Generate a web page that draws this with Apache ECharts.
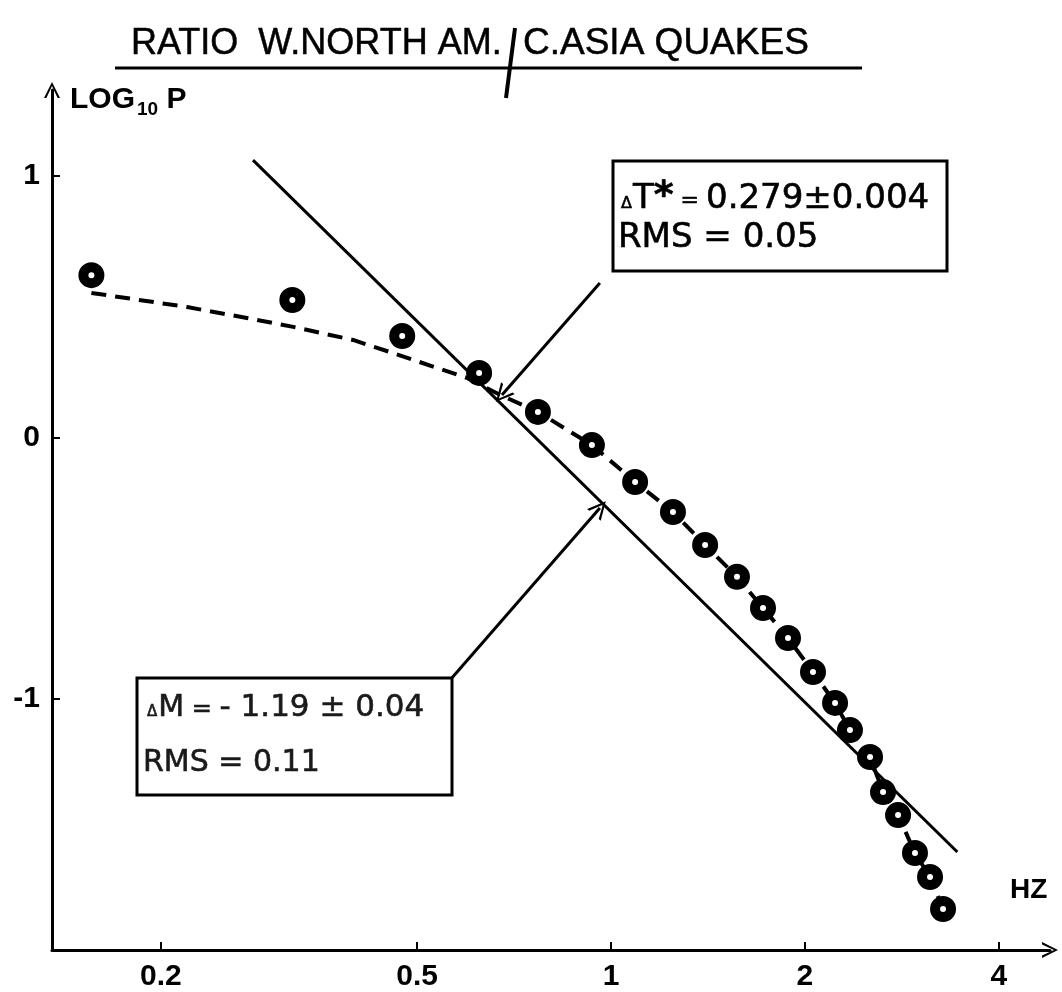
<!DOCTYPE html>
<html>
<head>
<meta charset="utf-8">
<script src="https://cdn.jsdelivr.net/npm/echarts@6/dist/echarts.min.js"></script>
<style>
html,body{margin:0;padding:0;background:#fff;}
#chart{width:1062px;height:992px;}
</style>
</head>
<body>
<div id="chart"></div>
<script>
// ---- data ----
const xTicks = [0.2, 0.5, 1, 2, 4];
const yTicks = [-1, 0, 1];

const freq = [0.156, 0.320, 0.474, 0.624, 0.770, 0.934, 1.090, 1.248, 1.400, 1.569, 1.722,
              1.883, 2.059, 2.228, 2.350, 2.525, 2.645, 2.791, 2.965, 3.129, 3.278];
const logP = [0.621, 0.526, 0.388, 0.247, 0.098, -0.029, -0.170, -0.285, -0.411, -0.533, -0.652,
              -0.767, -0.897, -1.015, -1.119, -1.222, -1.356, -1.444, -1.589, -1.681, -1.803];

// dashed fitted curve (delta T*)
const fitFreq = [0.156, 0.2197, 0.272, 0.321, 0.3975, 0.4586, 0.537, 0.5975, 0.6727, 0.770, 0.934,
                 1.090, 1.248, 1.400, 1.569, 1.722, 1.883, 2.059, 2.228, 2.350, 2.525, 2.645,
                 2.791, 2.965, 3.129, 3.278];
const fitLogP = [0.553, 0.499, 0.457, 0.423, 0.373, 0.323, 0.266, 0.228, 0.163, 0.098, -0.029,
                 -0.170, -0.285, -0.411, -0.533, -0.652, -0.767, -0.897, -1.015, -1.119, -1.222, -1.356,
                 -1.444, -1.589, -1.681, -1.803];

// straight line fit (delta M)
const lineFreq = [0.278, 3.45];
const lineLogP = [1.061, -1.585];

// annotation arrows [from, to]
const arrowT = [[0.961, 0.591], [0.677, 0.1625]];
const arrowM = [[0.566, -0.920], [0.961, -0.270]];

const zip = (a, b) => a.map((v, i) => [v, b[i]]);

const FONT = '"Liberation Sans", Arial, sans-serif';
const DV = '"DejaVu Sans", sans-serif';
const chevron = 'path://M0,20 L10,0 L20,20 L17,20 L10,5 L3,20 Z';

const chart = echarts.init(document.getElementById('chart'), null, {renderer: 'canvas'});

const option = {
  backgroundColor: '#fff',
  animation: false,
  grid: {left: 52, right: 12, top: 90, bottom: 42},
  xAxis: {
    type: 'log',
    logBase: 10,
    min: 0.1355,
    max: 4.805,
    splitLine: {show: false},
    axisLine: {
      show: true,
      onZero: false,
      lineStyle: {color: '#000', width: 3},
      symbol: ['none', chevron],
      symbolSize: [20, 16]
    },
    axisTick: {show: true, inside: true, length: 8, lineStyle: {color: '#000', width: 2}, customValues: xTicks},
    axisLabel: {
      customValues: xTicks,
      color: '#000', fontFamily: FONT, fontSize: 30, fontWeight: 'bold', margin: 12,
      formatter: v => String(+(+v).toPrecision(3))
    }
  },
  yAxis: {
    type: 'value',
    min: -1.96,
    max: 1.329,
    splitLine: {show: false},
    axisLine: {
      show: true,
      onZero: false,
      lineStyle: {color: '#000', width: 3},
      symbol: ['none', chevron],
      symbolSize: [20, 16]
    },
    axisTick: {show: true, inside: true, length: 8, lineStyle: {color: '#000', width: 2}, customValues: yTicks},
    axisLabel: {
      customValues: yTicks,
      color: '#000', fontFamily: FONT, fontSize: 30, fontWeight: 'bold', margin: 12,
      formatter: v => String(Math.round(v))
    }
  },
  series: [
    {
      type: 'line',
      data: zip(fitFreq, fitLogP),
      showSymbol: false,
      symbol: 'none',
      lineStyle: {color: '#000', width: 4, type: [15, 9]},
      z: 2
    },
    {
      type: 'line',
      data: zip(lineFreq, lineLogP),
      showSymbol: false,
      symbol: 'none',
      lineStyle: {color: '#000', width: 3},
      z: 2
    },
    {
      type: 'lines',
      coordinateSystem: 'cartesian2d',
      symbol: ['none', chevron],
      symbolSize: [22, 18],
      lineStyle: {color: '#000', width: 3, opacity: 1},
      data: [{coords: arrowT}, {coords: arrowM}],
      z: 3
    },
    {
      type: 'scatter',
      data: zip(freq, logP),
      symbol: 'circle',
      symbolSize: 16,
      itemStyle: {color: '#fff', borderColor: '#000', borderWidth: 10, opacity: 1},
      z: 5
    }
  ],
  graphic: {
    elements: [
      // title
      {type: 'text', z: 10,
       style: {text: 'RATIO  W.NORTH AM.', x: 131, y: 44, verticalAlign: 'middle', textVerticalAlign: 'middle',
               font: '36px ' + FONT, fill: '#000', stroke: '#000', lineWidth: 0.5}},
      {type: 'text', z: 10,
       style: {text: 'C.ASIA QUAKES', x: 523, y: 44, verticalAlign: 'middle', textVerticalAlign: 'middle',
               font: '37px ' + FONT, fill: '#000', stroke: '#000', lineWidth: 0.5}},
      {type: 'line', z: 10, shape: {x1: 115, y1: 68, x2: 862, y2: 68}, style: {stroke: '#000', lineWidth: 3}},
      {type: 'line', z: 10, shape: {x1: 515, y1: 28, x2: 506, y2: 98}, style: {stroke: '#000', lineWidth: 4}},
      // y axis name
      {type: 'text', z: 10,
       style: {text: '{a|LOG}{b|10}{a| P}', x: 70, y: 100, verticalAlign: 'middle', textVerticalAlign: 'middle', fill: '#000',
               rich: {a: {fontFamily: FONT, fontSize: 30, fontWeight: 'bold', verticalAlign: 'bottom'},
                      b: {fontFamily: FONT, fontSize: 19, fontWeight: 'bold', verticalAlign: 'bottom', padding: [0, 0, -4, 2]}}}},
      // x axis name
      {type: 'text', z: 10,
       style: {text: 'HZ', x: 1010, y: 890, verticalAlign: 'middle', textVerticalAlign: 'middle',
               font: 'bold 28px ' + FONT, fill: '#000'}},
      // box 1
      {type: 'rect', z: 8, shape: {x: 613, y: 161, width: 334, height: 110},
       style: {fill: '#fff', stroke: '#000', lineWidth: 3}},
      {type: 'text', z: 10,
       style: {text: '{d|Δ}{t|T}{s|*}{e| = }{n|0.279±0.004}', x: 621, y: 197,
               verticalAlign: 'middle', textVerticalAlign: 'middle', fill: '#000', stroke: '#000', lineWidth: 0.6,
               rich: {d: {fontFamily: DV, fontSize: 16, verticalAlign: 'bottom', padding: [0, 1, 4, 0]},
                      t: {fontFamily: DV, fontSize: 34, verticalAlign: 'bottom'},
                      s: {fontFamily: DV, fontSize: 38, fontWeight: 'bold', verticalAlign: 'top'},
                      e: {fontFamily: DV, fontSize: 22, verticalAlign: 'bottom', padding: [0, 0, 4, 0]},
                      n: {fontFamily: DV, fontSize: 34, verticalAlign: 'bottom'}}}},
      {type: 'text', z: 10,
       style: {text: 'RMS = 0.05', x: 618, y: 238, verticalAlign: 'middle', textVerticalAlign: 'middle',
               font: '34px ' + DV, fill: '#000', stroke: '#000', lineWidth: 0.6}},
      // box 2
      {type: 'rect', z: 8, shape: {x: 137, y: 678, width: 315, height: 117},
       style: {fill: '#fff', stroke: '#000', lineWidth: 3}},
      {type: 'text', z: 10,
       style: {text: '{d|Δ}{t|M}{e| = }{n|- 1.19 ± 0.04}', x: 147, y: 708,
               verticalAlign: 'middle', textVerticalAlign: 'middle', fill: '#1a1a1a', stroke: '#1a1a1a', lineWidth: 0.6,
               rich: {d: {fontFamily: DV, fontSize: 15, verticalAlign: 'bottom', padding: [0, 1, 4, 0]},
                      t: {fontFamily: DV, fontSize: 30, verticalAlign: 'bottom'},
                      e: {fontFamily: DV, fontSize: 24, verticalAlign: 'bottom', padding: [0, 0, 2, 0]},
                      n: {fontFamily: DV, fontSize: 31, verticalAlign: 'bottom'}}}},
      {type: 'text', z: 10,
       style: {text: 'RMS = 0.11', x: 143, y: 763, verticalAlign: 'middle', textVerticalAlign: 'middle',
               font: '30px ' + DV, fill: '#1a1a1a', stroke: '#1a1a1a', lineWidth: 0.6}}
    ]
  }
};
chart.setOption(option);
</script>
</body>
</html>
